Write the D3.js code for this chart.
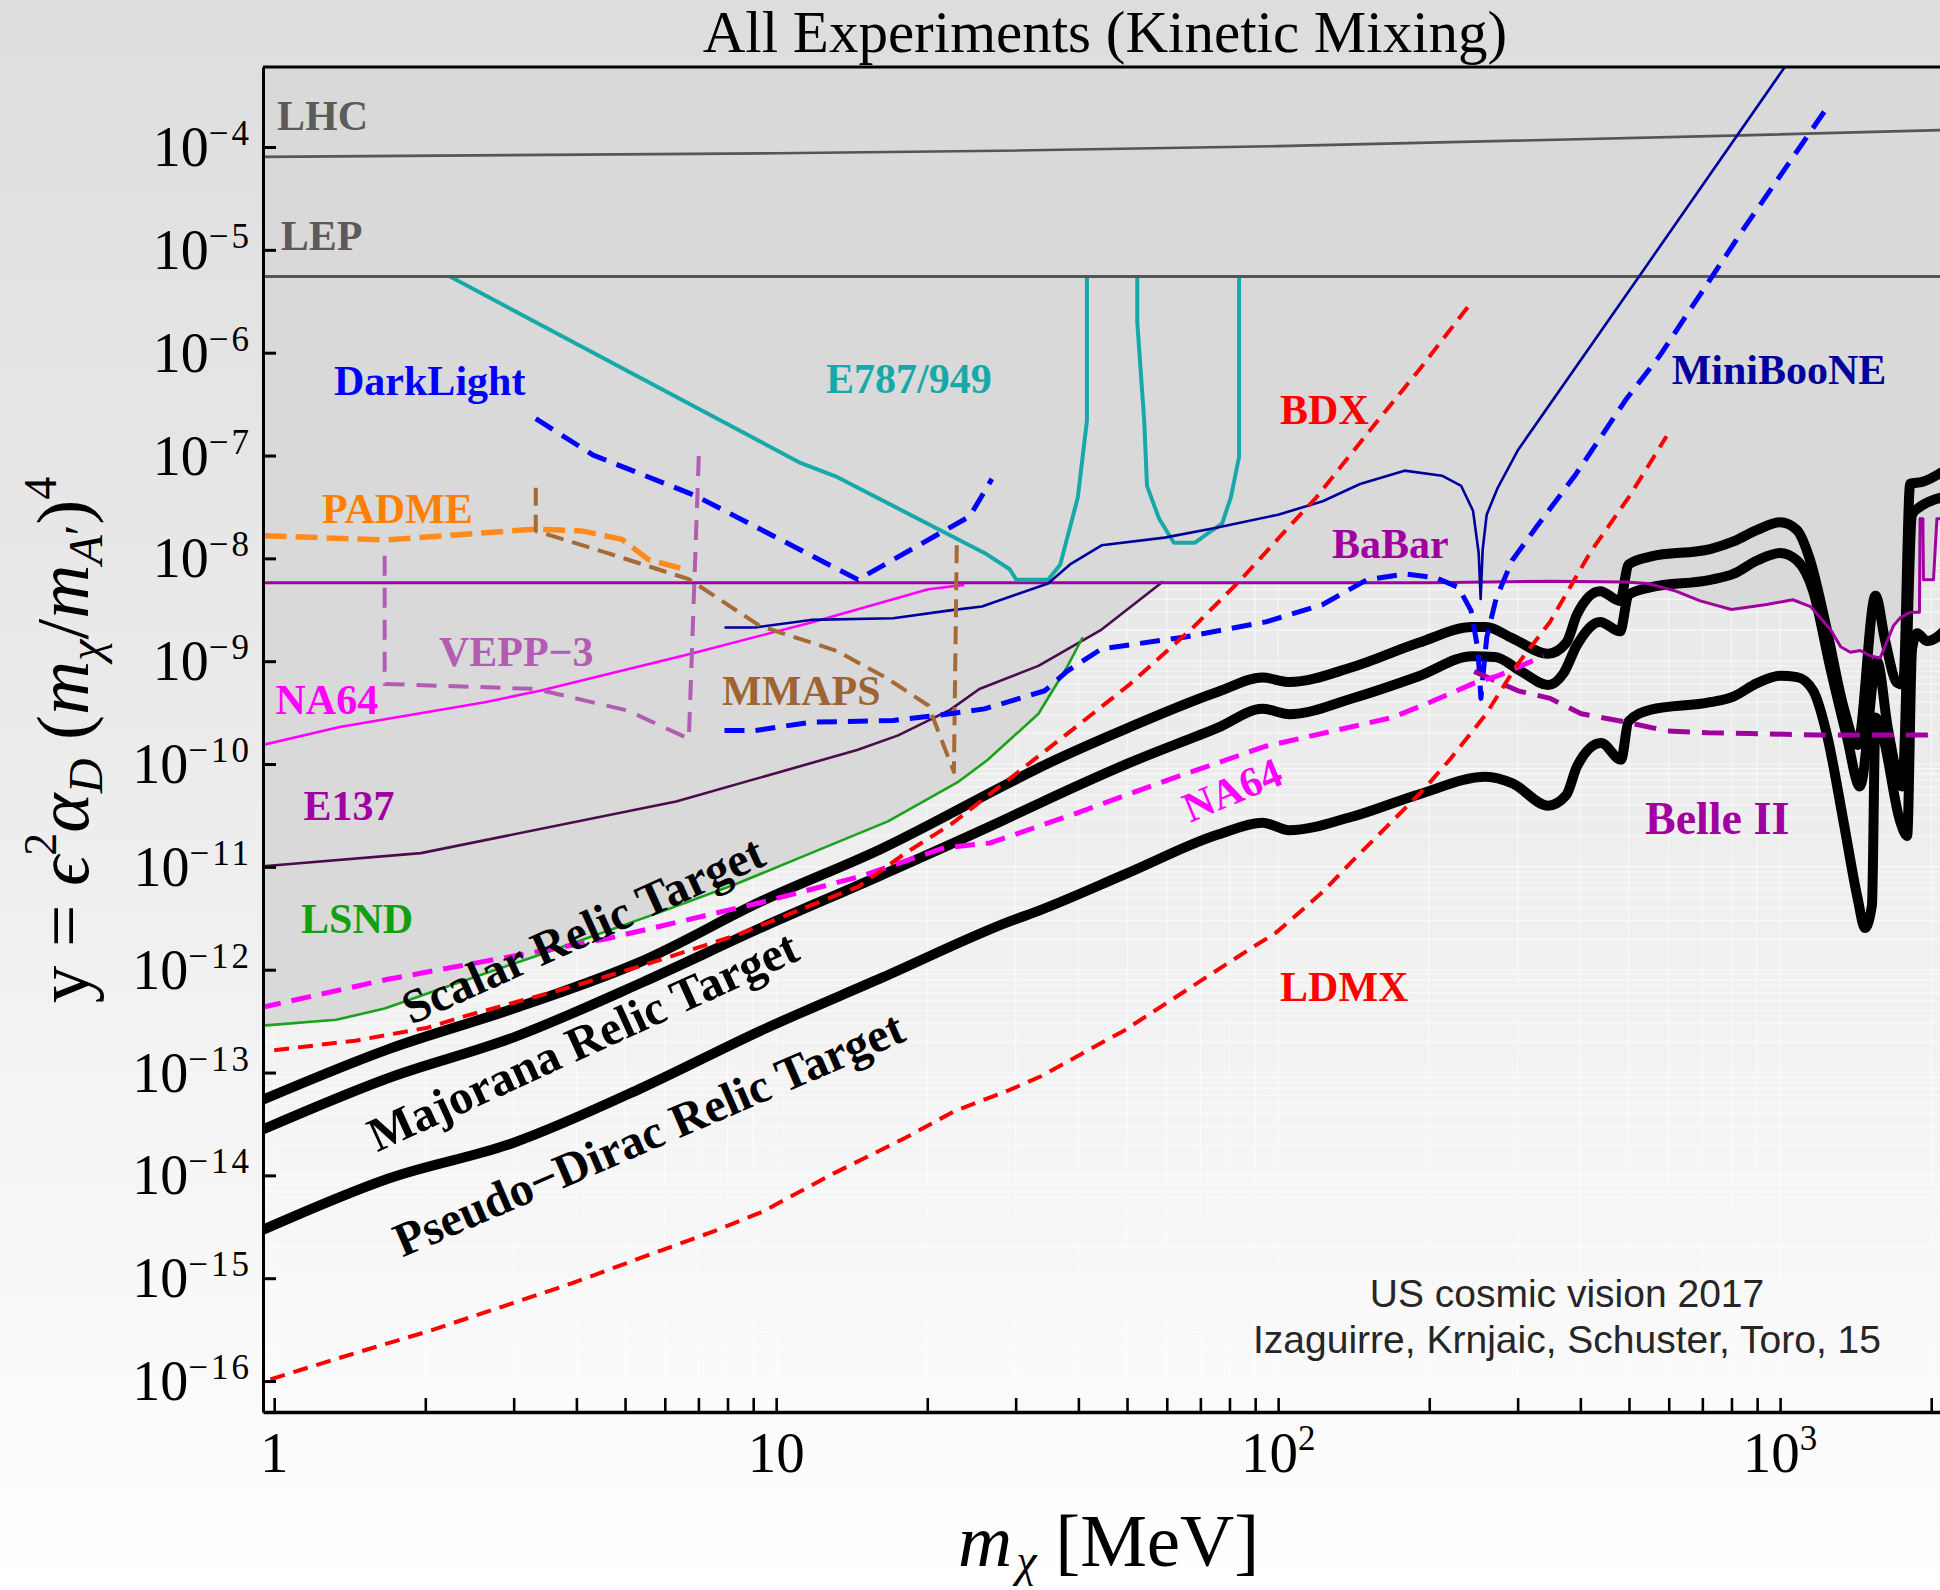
<!DOCTYPE html>
<html>
<head>
<meta charset="utf-8">
<script src="https://cdn.jsdelivr.net/npm/d3@7"></script>
<style>
  html, body { margin: 0; padding: 0; background: #ffffff; }
  svg { display: block; }
</style>
</head>
<body>
<svg id="chart" width="1940" height="1590"></svg>
<script>
// ---------- data: [m_chi in MeV, y] ----------
const LHC = [[0.9,8.0e-5],[10,8.7e-5],[28,9.2e-5],[100,1.02e-4],[800,1.29e-4],[2300,1.48e-4]];
const LEP = [[0.9,5.5e-6],[2300,5.5e-6]];

const E787 = [[2.24,5.5e-6],[11.18,8.47e-8],[13.13,6.28e-8],[26.0,1.13e-8],[29.2,7.83e-9],[30.1,6.18e-9],
  [34.8,6.18e-9],[36.8,8.65e-9],[39.9,3.92e-8],[41.6,2.18e-7],[41.6,3e-5],[52.4,3e-5],[52.4,2e-6],
  [54.1,2.18e-7],[54.8,5.07e-8],[57.9,2.44e-8],[62.0,1.42e-8],[68.3,1.42e-8],[72.2,1.73e-8],
  [77.3,2.17e-8],[80.5,3.92e-8],[83.6,9.7e-8],[83.6,3e-5]];

const DARKLIGHT = [[3.32,2.28e-7],[4.32,1.01e-7],[6.89,4.09e-8],[14.55,6.21e-9],[24.3,2.56e-8],[26.9,5.93e-8]];
const PADME = [[0.957,1.66e-8],[1.67,1.51e-8],[3.30,1.92e-8],[4.10,1.85e-8],[4.93,1.53e-8],[5.56,9.77e-9],[6.56,7.83e-9]];
const MMAPS = [[3.32,4.85e-8],[3.32,1.85e-8],[4.60,1.13e-8],[6.70,6.27e-9],[9.29,2.20e-9],[13.2,1.26e-9],
  [16.7,6.73e-10],[20.1,3.71e-10],[22.6,8.37e-11],[22.9,1.37e-8]];
const VEPP3 = [[1.66,1.06e-8],[1.66,6.01e-10],[3.32,5.37e-10],[5.06,3.31e-10],[6.70,1.76e-10],[7.02,1.14e-7]];

const NA64 = [[0.942,1.52e-10],[1.35,2.29e-10],[2.63,3.99e-10],[3.40,5.18e-10],[6.70,1.17e-9],[11.75,2.38e-9],[20.1,5.0e-9],[23.7,5.52e-9]];
const NA64_PROJ = [[0.942,4.29e-13],[1.684,8.07e-13],[2.88,1.31e-12],[4.60,2.00e-12],[9.29,4.48e-12],[14.8,8.13e-12],
  [21.6,1.53e-11],[26.7,1.71e-11],[39.6,3.32e-11],[61.2,7.18e-11],[94.5,1.49e-10],[168.7,2.83e-10],
  [200.7,3.99e-10],[245.8,6.12e-10],[275.4,7.28e-10],[337.8,1.12e-9]];

const E137 = [[0.942,1.01e-11],[1.96,1.36e-11],[6.32,4.32e-11],[14.5,1.37e-10],[17.5,1.90e-10],[22.2,3.36e-10],
  [25.4,5.37e-10],[33.3,9.0e-10],[44.5,2.03e-9],[59.0,5.97e-9]];
const LSND = [[0.942,2.85e-13],[1.33,3.26e-13],[1.66,4.20e-13],[2.28,7.23e-13],[3.64,1.58e-12],[5.82,3.57e-12],
  [8.27,6.73e-12],[11.73,1.36e-11],[16.7,2.77e-11],[23.1,6.76e-11],[26.4,1.10e-10],[33.3,3.08e-10],
  [37.9,8.63e-10],[40.8,1.71e-9]];

const BABAR_BELLE = [[0.9,5.8e-9],[200,5.8e-9],[350,6.0e-9],[490,5.9e-9],[545,5.7e-9],[620,4.8e-9],[693,3.86e-9],
  [800,3.18e-9],[940,3.56e-9],[1060,3.96e-9],[1150,3.40e-9],[1260,2.03e-9],[1320,1.38e-9],[1380,1.22e-9],
  [1445,1.27e-9],[1510,1.13e-9],[1582,1.07e-9],[1682,2.21e-9],[1734,2.64e-9],[1815,2.99e-9],[1895,3.0e-9],
  [1900,2.43e-8],[1925,2.43e-8],[1930,6.2e-9],[2021,6.2e-9],[2053,2.43e-8],[2300,2.43e-8]];
const BELLE2_PROJ = [[245.8,7.93e-10],[300.6,5.15e-10],[348.3,4.35e-10],[401.6,3.08e-10],[486.8,2.59e-10],
  [594.5,2.10e-10],[717.8,2.01e-10],[871,1.98e-10],[1183,1.92e-10],[2300,1.92e-10]];

const MINIBOONE = [[7.89,2.13e-9],[9.08,2.13e-9],[11.73,2.52e-9],[17.1,2.62e-9],[22.2,3.12e-9],[25.7,3.40e-9],
  [34.8,5.69e-9],[38.5,8.73e-9],[44.5,1.34e-8],[59.4,1.59e-8],[74.9,1.97e-8],[100,2.66e-8],[122.7,3.59e-8],
  [145.6,5.28e-8],[178.6,7.13e-8],[212,6.37e-8],[231.6,5.06e-8],[244.5,2.90e-8],[250.9,1.13e-8],
  [253.2,4.04e-9],[255.5,1.2e-8],[260.3,2.66e-8],[273.8,4.85e-8],[300.8,1.14e-7],[545,7.3e-6],[1040,6.8e-4]];
const MINIBOONE_PROJ = [[7.89,2.12e-10],[9.08,2.12e-10],[11.73,2.55e-10],[17.1,2.65e-10],[22.2,3.08e-10],
  [26.0,3.44e-10],[34.3,5.16e-10],[37.9,7.93e-10],[44.5,1.32e-9],[64.8,1.71e-9],[94.5,2.41e-9],[122.7,3.56e-9],
  [150.2,6.19e-9],[178.6,7.05e-9],[206.5,6.47e-9],[228.6,5.22e-9],[242.2,3.12e-9],[250,1.3e-9],[253.5,4.35e-10],
  [256.8,8.61e-10],[260.4,1.71e-9],[271.7,4.04e-9],[292.5,9.53e-9],[328,2.06e-8],[391.6,6.55e-8],
  [492.6,3.48e-7],[575.5,9.33e-7],[844.5,1.58e-5],[1258.5,2.68e-4]];

const BDX = [[1.0,1.65e-13],[1.45,2.04e-13],[2.02,2.73e-13],[2.41,3.56e-13],[3.90,6.79e-13],[5.42,1.10e-12],
  [8.41,2.20e-12],[11.69,4.19e-12],[14.6,6.44e-12],[18.1,1.36e-11],[22.4,2.63e-11],[28.4,6.49e-11],
  [39.4,2.26e-10],[50.4,5.85e-10],[67.1,2.04e-9],[84.1,6.14e-9],[103.2,1.84e-8],[119.1,3.90e-8],
  [134.6,8.26e-8],[158.6,2.24e-7],[190.7,6.75e-7],[243.8,3.18e-6]];
const LDMX = [[0.983,1.04e-16],[1.45,1.87e-16],[2.02,3.03e-16],[2.81,5.18e-16],[3.90,8.85e-16],[5.42,1.60e-15],
  [7.53,2.87e-15],[9.38,4.42e-15],[13.0,1.04e-14],[18.1,2.32e-14],[22.6,4.19e-14],[29.2,6.78e-14],
  [33.8,9.25e-14],[40.8,1.54e-13],[49.4,2.57e-13],[59.8,4.70e-13],[72.3,8.59e-13],[87.5,1.57e-12],
  [98.9,2.28e-12],[105.7,3.01e-12],[123,5.77e-12],[140.3,1.13e-11],[172.2,3.07e-11],[194.5,5.58e-11],
  [220.3,1.12e-10],[259.4,3.05e-10],[299.2,9.18e-10],[348,2.41e-9],[418,1.13e-8],[502,4.08e-8],[594,1.54e-7]];

const RELIC_SCALAR = [[0.937,5.30e-14],[1.69,1.69e-13],[3.0,4.19e-13],[5.42,1.22e-12],[9.38,4.67e-12],
  [16.3,1.52e-11],[29.2,6.6e-11],[33.4,9.20e-11],[50.4,2.26e-10],[75.9,5.04e-10],[93.1,6.93e-10],
  [105.3,6.28e-10],[140.3,8.73e-10],[190.5,1.51e-9],[243.8,2.15e-9],[259.4,2.15e-9],[293,1.67e-9],
  [345,1.18e-9],[375,1.51e-9],[394,2.86e-9],[438,4.80e-9],[480,3.86e-9],[499,8.73e-9],[551,1.04e-8],
  [726,1.23e-8],[807,1.46e-8],[900,1.89e-8],[1000,2.24e-8],[1080,1.89e-8],[1148,9.53e-9],[1239,2.03e-9],
  [1336,3.67e-10],[1426,1.53e-10],[1549,4.33e-9],[1618,1.61e-9],[1710,6.15e-10],[1758,5.89e-10],
  [1816,5.31e-8],[1919,5.55e-8],[2200,8.0e-8]];
const RELIC_MAJORANA = [[0.937,2.72e-14],[1.69,8.85e-14],[3.0,2.20e-13],[5.42,7.55e-13],[9.38,2.59e-12],
  [16.3,8.41e-12],[29.2,3.04e-11],[33.4,4.14e-11],[50.4,1.02e-10],[75.9,2.26e-10],[93.1,3.44e-10],
  [105.3,3.05e-10],[140.3,4.34e-10],[190.5,7.14e-10],[243.8,1.12e-9],[270.4,1.10e-9],[305.5,7.91e-10],
  [345,5.86e-10],[370,7.59e-10],[394,1.44e-9],[438,2.41e-9],[480,1.95e-9],[499,4.42e-9],[551,5.22e-9],
  [726,6.18e-9],[807,7.06e-9],[900,9.53e-9],[1000,1.13e-8],[1081,9.53e-9],[1164,4.80e-9],[1259,8.61e-10],
  [1358,1.85e-10],[1442,6.05e-11],[1560,1.0e-9],[1640,2.2e-10],[1750,6.05e-11],[1832,2.66e-8],
  [1875,3.03e-8],[2200,4.1e-8]];
const RELIC_PSEUDODIRAC = [[0.937,2.87e-15],[1.69,9.33e-15],[3.0,2.08e-14],[5.42,7.14e-14],[9.38,2.59e-13],
  [16.3,8.41e-13],[29.2,2.95e-12],[33.4,3.76e-12],[50.4,8.79e-12],[75.9,2.06e-11],[93.1,2.69e-11],
  [105.3,2.27e-11],[140.3,3.07e-11],[190.5,5.06e-11],[259.4,7.53e-11],[293,6.49e-11],[345,3.94e-11],
  [375,5.0e-11],[394,9.5e-11],[440,1.6e-10],[482,1.1e-10],[499,2.6e-10],[551,3.36e-10],[726,3.99e-10],
  [807,4.53e-10],[900,6.12e-10],[1000,7.2e-10],[1081,7.0e-10],[1164,5.15e-10],[1242,1.85e-10],
  [1337,2.79e-11],[1426,5.03e-12],[1476,2.54e-12],[1524,4.27e-12],[1549,2.83e-10],[1603,1.85e-10],
  [1734,2.79e-11],[1791,2.0e-11],[1832,1.32e-9],[1875,1.87e-9],[1963,1.57e-9],[2200,2.4e-9]];

const X_TICKS_MAJOR = [1, 10, 100, 1000];
const X_TICK_LABELS = [["1", null], ["10", null], ["10", "2"], ["10", "3"]];
const Y_DECADES = [-16, -15, -14, -13, -12, -11, -10, -9, -8, -7, -6, -5, -4];

const TITLE = "All Experiments (Kinetic Mixing)";
const CREDIT = ["US cosmic vision 2017", "Izaguirre, Krnjaic, Schuster, Toro, 15"];

// annotation anchors, in data units
const LABELS = [
  { text: "LHC", m: 1.013, v: 1.47e-4, color: "#5b5b5b" },
  { text: "LEP", m: 1.03, v: 9.86e-6, color: "#5b5b5b" },
  { text: "DarkLight", m: 1.316, v: 3.89e-7, color: "#0000ff" },
  { text: "E787/949", m: 12.57, v: 4.07e-7, color: "#17a9a9" },
  { text: "PADME", m: 1.245, v: 2.21e-8, color: "#ff8000" },
  { text: "VEPP\u22123", m: 2.13, v: 9.0e-10, color: "#b25cb2" },
  { text: "NA64", m: 1.006, v: 3.07e-10, color: "#ff00ff" },
  { text: "MMAPS", m: 7.8, v: 3.76e-10, color: "#9e6532" },
  { text: "E137", m: 1.144, v: 2.86e-11, color: "#a000a0" },
  { text: "LSND", m: 1.131, v: 2.29e-12, color: "#12a012" },
  { text: "BDX", m: 100.9, v: 2.03e-7, color: "#ff0000" },
  { text: "MiniBooNE", m: 608, v: 4.92e-7, color: "#00009c" },
  { text: "BaBar", m: 128, v: 1.01e-8, color: "#a000a0" },
  { text: "Belle II", m: 538, v: 2.09e-11, color: "#a000a0", big: true },
  { text: "LDMX", m: 100.9, v: 4.95e-13, color: "#ff0000" }
];
const ROTATED_LABELS = [
  { text: "NA64", m: 81, v: 5.62e-11, color: "#ff00ff", angle: -22.7, size: 42 },
  { text: "Scalar Relic Target", m: 4.12, v: 2.45e-12, color: "#000000", angle: -24.3, size: 48 },
  { text: "Majorana Relic Target", m: 4.12, v: 2.04e-13, color: "#000000", angle: -24.5, size: 48 },
  { text: "Pseudo\u2212Dirac Relic Target", m: 5.57, v: 2.54e-14, color: "#000000", angle: -23.3, size: 48 }
];

// ---------- layout ----------
const W = 1940, H = 1590;
const plot = { left: 263, right: 1950, top: 67, bottom: 1412 };
const serif = "'Liberation Serif', 'Times New Roman', serif";

const x = d3.scaleLog().domain([0.95, 2180]).range([plot.left, plot.right]);
const y = d3.scaleLog().domain([5e-17, 6e-4]).range([plot.bottom, plot.top]);

const svg = d3.select("#chart");
const defs = svg.append("defs");

const grad = defs.append("linearGradient").attr("id", "pageShade")
  .attr("x1", 0).attr("y1", 0).attr("x2", 0).attr("y2", 1);
grad.append("stop").attr("offset", "0%").attr("stop-color", "#dddddd");
grad.append("stop").attr("offset", "45%").attr("stop-color", "#ebebeb");
grad.append("stop").attr("offset", "100%").attr("stop-color", "#ffffff");

defs.append("clipPath").attr("id", "plotClip").append("rect")
  .attr("x", plot.left).attr("y", plot.top)
  .attr("width", plot.right - plot.left).attr("height", plot.bottom - plot.top);
defs.append("clipPath").attr("id", "belowLEP").append("rect")
  .attr("x", plot.left).attr("y", y(LEP[0][1]) + 1.5)
  .attr("width", plot.right - plot.left).attr("height", plot.bottom - y(LEP[0][1]));

svg.append("rect").attr("width", W).attr("height", H).attr("fill", "url(#pageShade)");

const body = svg.append("g").attr("clip-path", "url(#plotClip)");

// faint minor grid in the allowed region
const gridG = body.append("g").attr("stroke", "#ffffff").attr("stroke-opacity", 0.55).attr("stroke-width", 1.3);
for (let k = 0; k <= 3; k++) for (let i = 1; i <= 9; i++) {
  const v = i * Math.pow(10, k);
  if (v < 0.95 || v > 2180) continue;
  gridG.append("line").attr("x1", x(v)).attr("x2", x(v)).attr("y1", plot.top).attr("y2", plot.bottom);
}
for (let k = -17; k <= -4; k++) for (let i = 1; i <= 9; i++) {
  const v = i * Math.pow(10, k);
  if (v < 5e-17 || v > 6e-4) continue;
  gridG.append("line").attr("x1", plot.left).attr("x2", plot.right).attr("y1", y(v)).attr("y2", y(v));
}

// excluded region: everything above the lowest existing bound
const L10 = Math.log10;
function logInterp(arr, lm) {
  const a = L10(arr[0][0]), b = L10(arr[arr.length - 1][0]);
  if (lm < a || lm > b) return Infinity;
  for (let i = 1; i < arr.length; i++) {
    const m0 = L10(arr[i - 1][0]), m1 = L10(arr[i][0]);
    if (lm <= m1) {
      const t = m1 === m0 ? 0 : (lm - m0) / (m1 - m0);
      return L10(arr[i - 1][1]) + t * (L10(arr[i][1]) - L10(arr[i - 1][1]));
    }
  }
  return Infinity;
}
const lmGrid = d3.range(L10(0.95), L10(2180) + 1e-9, 0.001);
const bound = lmGrid.map(lm => [lm, Math.min(logInterp(LSND, lm), logInterp(E137, lm), logInterp(BABAR_BELLE, lm))])
  .filter(d => isFinite(d[1]));
body.append("path").datum(bound)
  .attr("fill", "#d9d9d9")
  .attr("d", d3.area().x(d => x(Math.pow(10, d[0]))).y0(plot.top).y1(d => y(Math.pow(10, d[1]))));

const line = d3.line().x(d => x(d[0])).y(d => y(d[1]));
const smooth = d3.line().x(d => x(d[0])).y(d => y(d[1])).curve(d3.curveMonotoneX);

function draw(data, color, width, dash, gen, clip) {
  const p = (clip ? body.append("g").attr("clip-path", clip) : body).append("path").datum(data)
    .attr("fill", "none").attr("stroke", color).attr("stroke-width", width)
    .attr("stroke-linejoin", "round")
    .attr("d", gen || line);
  if (dash) p.attr("stroke-dasharray", dash);
  return p;
}

// collider bounds
draw(LHC, "#555555", 2.6);
draw(LEP, "#555555", 3);

// relic targets
draw(RELIC_SCALAR, "#000000", 10, null, smooth);
draw(RELIC_MAJORANA, "#000000", 10, null, smooth);
draw(RELIC_PSEUDODIRAC, "#000000", 10, null, smooth);

// existing limits
draw(E137, "#4a0c4a", 2.6);
draw(LSND, "#1aa21a", 2.6);
draw(NA64, "#ff00ff", 2.6);
draw(BABAR_BELLE, "#a000a0", 3);
draw(E787, "#17a9a9", 4, null, line, "url(#belowLEP)");
draw(MINIBOONE, "#00009c", 2.6);

// projections
draw(DARKLIGHT, "#0000ff", 5, "20,11");
draw(PADME, "#ff8c1a", 5.5, "22,9");
draw(MMAPS, "#a56a36", 4, "18,9");
draw(VEPP3, "#b25cb2", 4, "20,12");
draw(MINIBOONE_PROJ, "#0000ff", 5, "20,11");
draw(BELLE2_PROJ, "#a000a0", 5, "22,12");
draw(NA64_PROJ, "#ff00ff", 5, "20,11");
draw(BDX, "#ff0000", 4, "15,9");
draw(LDMX, "#ff0000", 4, "15,9");

// labels
const labG = svg.append("g").attr("font-family", serif).attr("font-weight", "bold");
LABELS.forEach(d => {
  labG.append("text").attr("x", x(d.m)).attr("y", y(d.v))
    .attr("font-size", d.big ? 46 : 42).attr("fill", d.color).text(d.text);
});
ROTATED_LABELS.forEach(d => {
  labG.append("text")
    .attr("transform", `translate(${x(d.m)},${y(d.v)}) rotate(${d.angle})`)
    .attr("text-anchor", "middle").attr("dy", "0.34em")
    .attr("font-size", d.size).attr("fill", d.color).text(d.text);
});

// credit
const cr = svg.append("g").attr("font-family", "'Liberation Sans', Arial, sans-serif")
  .attr("font-size", 39).attr("fill", "#262626").attr("text-anchor", "middle");
cr.append("text").attr("x", 1567).attr("y", 1307).text(CREDIT[0]);
cr.append("text").attr("x", 1567).attr("y", 1353).text(CREDIT[1]);

// axes and frame
const axG = svg.append("g");
const minorX = [];
for (let k = 0; k <= 3; k++) for (let i = 1; i <= 9; i++) {
  const v = i * Math.pow(10, k);
  if (v >= 0.95 && v <= 2180) minorX.push(v);
}
axG.append("g").attr("transform", `translate(0,${plot.bottom})`)
  .call(d3.axisBottom(x).tickValues(minorX).tickSize(-14).tickSizeOuter(0).tickFormat(() => ""))
  .call(g => g.selectAll(".tick line").attr("stroke", "#000").attr("stroke-width", 2.6))
  .call(g => g.select(".domain").attr("stroke", "#000").attr("stroke-width", 3.5));
axG.append("g").attr("transform", `translate(${plot.left},0)`)
  .call(d3.axisLeft(y).tickValues(Y_DECADES.map(e => Math.pow(10, e))).tickSize(-13).tickSizeOuter(0).tickFormat(() => ""))
  .call(g => g.selectAll(".tick line").attr("stroke", "#000").attr("stroke-width", 3))
  .call(g => g.select(".domain").attr("stroke", "#000").attr("stroke-width", 3));
axG.append("line").attr("x1", plot.left).attr("x2", plot.right)
  .attr("y1", plot.top).attr("y2", plot.top).attr("stroke", "#000").attr("stroke-width", 3);

// y tick labels 10^n
Y_DECADES.forEach(e => {
  const t = svg.append("text").attr("x", 252).attr("y", y(Math.pow(10, e)) + 19)
    .attr("text-anchor", "end").attr("font-family", serif).attr("fill", "#000");
  t.append("tspan").attr("font-size", 56).text("10");
  t.append("tspan").attr("font-size", 35).attr("letter-spacing", 3).attr("dy", -21).text("\u2212" + Math.abs(e));
});
// x tick labels
X_TICKS_MAJOR.forEach((v, i) => {
  const [base, sup] = X_TICK_LABELS[i];
  const t = svg.append("text").attr("x", x(v)).attr("y", 1472)
    .attr("text-anchor", "middle").attr("font-family", serif).attr("fill", "#000");
  t.append("tspan").attr("font-size", 57).text(base);
  if (sup) t.append("tspan").attr("font-size", 35).attr("dy", -22).text(sup);
});

// title
svg.append("text").attr("x", 1105).attr("y", 52).attr("text-anchor", "middle")
  .attr("font-family", serif).attr("font-size", 59).attr("fill", "#000").text(TITLE);

// x axis title: m_chi [MeV]
const xt = svg.append("text").attr("x", 958).attr("y", 1566)
  .attr("font-family", serif).attr("font-size", 75).attr("fill", "#000");
xt.append("tspan").attr("font-style", "italic").text("m");
xt.append("tspan").attr("font-style", "italic").attr("font-size", 46).attr("dy", 10).attr("dx", 4).text("\u03c7");
xt.append("tspan").attr("dy", -10).text(" [MeV]");

// y axis title: y = eps^2 alpha_D (m_chi/m_A')^4
const yt = svg.append("text").attr("transform", "translate(88,740) rotate(-90)")
  .attr("text-anchor", "middle").attr("font-family", serif).attr("font-size", 75).attr("fill", "#000");
yt.append("tspan").text("y = ");
yt.append("tspan").attr("font-style", "italic").text("\u03f5");
yt.append("tspan").attr("font-size", 46).attr("dy", -32).text("2");
yt.append("tspan").attr("font-style", "italic").attr("dy", 32).text("\u03b1");
yt.append("tspan").attr("font-style", "italic").attr("font-size", 48).attr("dy", 14).text("D");
yt.append("tspan").attr("dy", -14).text(" (");
yt.append("tspan").attr("font-style", "italic").text("m");
yt.append("tspan").attr("font-style", "italic").attr("font-size", 48).attr("dy", 14).text("\u03c7");
yt.append("tspan").attr("dy", -14).text("/");
yt.append("tspan").attr("font-style", "italic").text("m");
yt.append("tspan").attr("font-style", "italic").attr("font-size", 48).attr("dy", 14).text("A");
yt.append("tspan").attr("font-size", 48).attr("dy", -4).text("\u2032");
yt.append("tspan").attr("dy", -10).text(")");
yt.append("tspan").attr("font-size", 46).attr("dy", -32).text("4");
</script>
</body>
</html>
